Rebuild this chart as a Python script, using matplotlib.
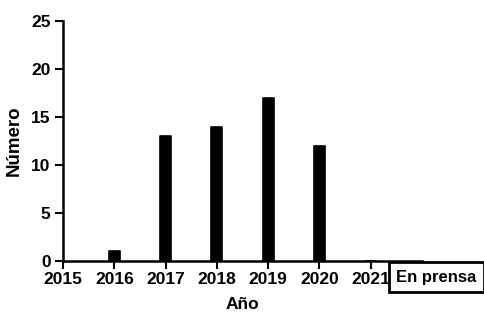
import matplotlib
matplotlib.use("Agg")
import matplotlib.pyplot as plt

years = [2016, 2017, 2018, 2019, 2020, 2021]
counts = [1, 13, 14, 17, 12, 0]
xticks = [2015, 2016, 2017, 2018, 2019, 2020, 2021]
yticks = [0, 5, 10, 15, 20, 25]

plt.rcParams['font.family'] = ['Liberation Sans', 'DejaVu Sans']
plt.rcParams['font.weight'] = 'bold'

fig = plt.figure(figsize=(4.85, 3.13), dpi=100)
ax = fig.add_axes([63/485, 1-261/313, (422-63)/485, (261-21)/313])

ax.bar(years, counts, width=0.22, color='black', edgecolor='black',
       linewidth=1.2, joinstyle='round')

ax.set_xlim(2015, 2022)
ax.set_ylim(0, 25)
ax.set_xticks(xticks)
ax.set_yticks(yticks)
ax.set_xticklabels([str(t) for t in xticks], fontsize=12.5, fontweight='bold')
ax.set_yticklabels([str(t) for t in yticks], fontsize=12.5, fontweight='bold')
for s in ['top', 'right']:
    ax.spines[s].set_visible(False)
for s in ['left', 'bottom']:
    ax.spines[s].set_linewidth(1.8)
ax.tick_params(axis='both', direction='out', length=6, width=1.5)
ax.tick_params(axis='y', pad=3)
ax.tick_params(axis='x', pad=2)

ax.set_xlabel('Año', fontsize=12.5, fontweight='bold', labelpad=7)
ax.set_ylabel('Número', fontsize=13.5, fontweight='bold', labelpad=6)

ax.text(2021.5, -1.7, 'En prensa',
        fontsize=12, fontweight='bold',
        ha='left', va='center', clip_on=False,
        bbox=dict(boxstyle='square,pad=0.45', facecolor='white',
                  edgecolor='black', linewidth=2))

fig.savefig('out.png', dpi=100)
